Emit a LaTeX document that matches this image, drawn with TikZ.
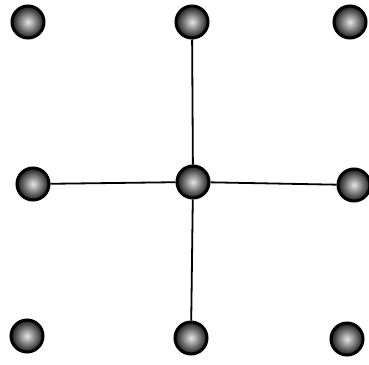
\documentclass[tikz,border=0pt]{standalone}
\begin{document}
\begin{tikzpicture}[x=1pt,y=-1pt,
  ball/.style={circle, minimum size=32pt, inner sep=0pt, draw=black, line width=3pt,
    shade, inner color=black!10, outer color=black!90},
  bond/.style={line width=1.8pt, black}]
\useasboundingbox (0,0) rectangle (369,364);
\node[ball] (tl) at (28,22) {};
\node[ball] (tm) at (192,22) {};
\node[ball] (tr) at (350,22) {};
\node[ball] (ml) at (33,184) {};
\node[ball] (c)  at (193,182) {};
\node[ball] (mr) at (354,185) {};
\node[ball] (bl) at (27,336) {};
\node[ball] (bm) at (191,338) {};
\node[ball] (br) at (347,339) {};
\draw[bond] (c) -- (tm);
\draw[bond] (c) -- (bm);
\draw[bond] (c) -- (ml);
\draw[bond] (c) -- (mr);
\end{tikzpicture}
\end{document}
